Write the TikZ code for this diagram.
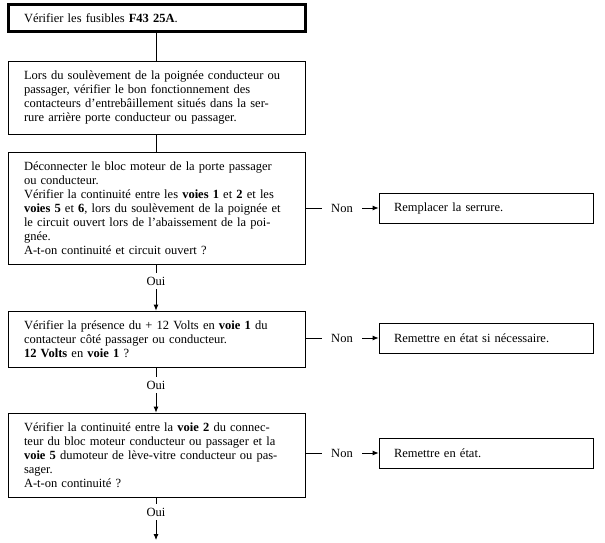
\documentclass[tikz,border=0pt]{standalone}
\usepackage{fontspec}
\setmainfont{Liberation Serif}
\usetikzlibrary{arrows.meta}

\tikzset{
  txt/.style={font=\fontsize{12.5}{14}\selectfont},
  stepbox/.style={txt, draw, line width=0.8pt, text width=265pt, inner xsep=16pt, align=left},
  fixbox/.style={txt, draw, line width=0.8pt, text width=184pt, inner xsep=15pt, minimum height=30pt, align=left},
  answer/.style={txt, inner xsep=9.5pt, inner ysep=4pt},
  flow/.style={line width=0.8pt},
}

\begin{document}
\begin{tikzpicture}[x=1pt,y=-1pt,>={Latex[length=6pt,width=5pt]}]
\useasboundingbox (0,0) rectangle (605,543);
% colonne des controles
\node[stepbox,line width=3pt,minimum height=27pt] (fusibles) at (156.5,18.5) {V\'erifier les fusibles \textbf{F43 25A}.};
\node[stepbox,minimum height=73pt] (contacteurs) at (156.5,97.5) {Lors du soul\`evement de la poign\'ee conducteur ou\\
passager, v\'erifier le bon fonctionnement des\\
contacteurs d’entreb\^aillement situ\'es dans la ser-\\
rure arri\`ere porte conducteur ou passager.};
\node[stepbox,minimum height=112pt] (bloc) at (156.5,208) {D\'econnecter le bloc moteur de la porte passager\\
ou conducteur.\\
V\'erifier la continuit\'e entre les \textbf{voies 1} et \textbf{2} et les\\
\textbf{voies 5} et \textbf{6}, lors du soul\`evement de la poign\'ee et\\
le circuit ouvert lors de l’abaissement de la poi-\\
gn\'ee.\\
A-t-on continuit\'e et circuit ouvert ?};
\node[stepbox,minimum height=56pt] (tension) at (156.5,339) {V\'erifier la pr\'esence du + 12 Volts en \textbf{voie 1} du\\
contacteur c\^ot\'e passager ou conducteur.\\
\textbf{12 Volts} en \textbf{voie 1} ?};
\node[stepbox,minimum height=84pt] (voies) at (156.5,455) {V\'erifier la continuit\'e entre la \textbf{voie 2} du connec-\\
teur du bloc moteur conducteur ou passager et la\\
\textbf{voie 5} dumoteur de l\`eve-vitre conducteur ou pas-\\
sager.\\
A-t-on continuit\'e ?};
% remedes
\node[fixbox] (serrure) at (486,208) {Remplacer la serrure.};
\node[fixbox] (remise) at (486,338) {Remettre en \'etat si n\'ecessaire.};
\node[fixbox] (etat) at (486,453) {Remettre en \'etat.};
% reponses
\node[answer] (non1) at (342,208) {Non};
\node[answer] (non2) at (342,338) {Non};
\node[answer] (non3) at (342,453) {Non};
\node[answer] (oui1) at (156,281) {Oui};
\node[answer] (oui2) at (156,385) {Oui};
\node[answer] (oui3) at (156,512) {Oui};
\coordinate (fin) at (156,540);
% liaisons
\draw[flow] (fusibles.south -| oui1) -- (contacteurs.north -| oui1);
\draw[flow] (contacteurs.south -| oui1) -- (bloc.north -| oui1);
\draw[flow] (bloc.south -| oui1) -- (oui1.north);
\draw[flow,->] (oui1.south) -- (tension.north -| oui1);
\draw[flow] (tension.south -| oui2) -- (oui2.north);
\draw[flow,->] (oui2.south) -- (voies.north -| oui2);
\draw[flow] (voies.south -| oui3) -- (oui3.north);
\draw[flow,->] (oui3.south) -- (fin);
\draw[flow] (bloc.east |- non1) -- (non1.west);
\draw[flow,->] (non1.east) -- (serrure.west);
\draw[flow] (tension.east |- non2) -- (non2.west);
\draw[flow,->] (non2.east) -- (remise.west);
\draw[flow] (voies.east |- non3) -- (non3.west);
\draw[flow,->] (non3.east) -- (etat.west);
\end{tikzpicture}
\end{document}
